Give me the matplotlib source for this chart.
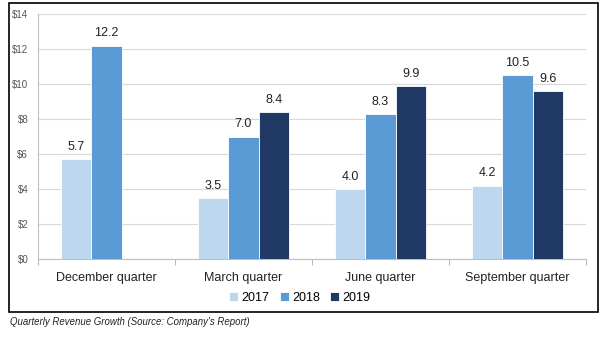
import numpy as np
import matplotlib
matplotlib.use("Agg")
import matplotlib.pyplot as plt
from matplotlib.patches import Rectangle

# data
quarters = ["December quarter", "March quarter", "June quarter", "September quarter"]
years = ["2017", "2018", "2019"]
rev_2017 = [5.7, 3.5, 4.0, 4.2]
rev_2018 = [12.2, 7.0, 8.3, 10.5]
rev_2019 = [np.nan, 8.4, 9.9, 9.6]
colors = ["#BDD7EE", "#5B9BD5", "#203864"]

plt.rcParams["font.family"] = ["Liberation Sans", "DejaVu Sans"]

fig = plt.figure(figsize=(6.02, 3.39), dpi=100)
ax = fig.add_axes([38 / 602, 1 - 259 / 339, 548 / 602, 245 / 339])

x = np.arange(len(quarters))
w = 0.22
for i, (vals, yr) in enumerate(zip([rev_2017, rev_2018, rev_2019], years)):
    pos = x + (i - 1) * w
    ax.bar(pos, vals, w, color=colors[i], edgecolor="white", linewidth=0.6,
           label=yr, zorder=3)
    for p, v in zip(pos, vals):
        if not np.isnan(v):
            ax.text(p, v + 0.35, f"{v:.1f}", ha="center", va="bottom", fontsize=9, color="#222222")

ax.set_xlim(-0.5, 3.5)
ax.set_ylim(0, 14)
ax.set_yticks(range(0, 15, 2))
ax.set_yticklabels([f"${t}" for t in range(0, 15, 2)], fontsize=7, color="#555555")
ax.yaxis.grid(True, color="#D9D9D9", linewidth=0.8, zorder=0)
ax.tick_params(axis="y", length=0, pad=7)

ax.set_xticks(x)
ax.set_xticklabels(quarters, fontsize=9, color="#222222")
ax.set_xticks(np.arange(-0.5, 4, 1), minor=True)
ax.tick_params(axis="x", which="major", length=0, pad=9)
ax.tick_params(axis="x", which="minor", length=4, color="#AAAAAA", direction="out")

for s in ["top", "right"]:
    ax.spines[s].set_visible(False)
ax.spines["left"].set_color("#BFBFBF")
ax.spines["bottom"].set_color("#BFBFBF")

fig.legend(loc="center", bbox_to_anchor=(300 / 602, 1 - 298 / 339), ncol=3, frameon=False,
           fontsize=9, handlelength=0.7, handleheight=0.7, handletextpad=0.3, columnspacing=0.8)

fig.patches.append(Rectangle((9 / 602, 1 - 312 / 339), 589 / 602, 309 / 339,
                             transform=fig.transFigure, fill=False, edgecolor="black", linewidth=1.2))

fig.text(10 / 602, 1 - 322 / 339, "Quarterly Revenue Growth (Source: Company's Report)",
         fontsize=6.9, style="italic", va="center", ha="left", color="#222222")

fig.savefig("out.png", dpi=100)
